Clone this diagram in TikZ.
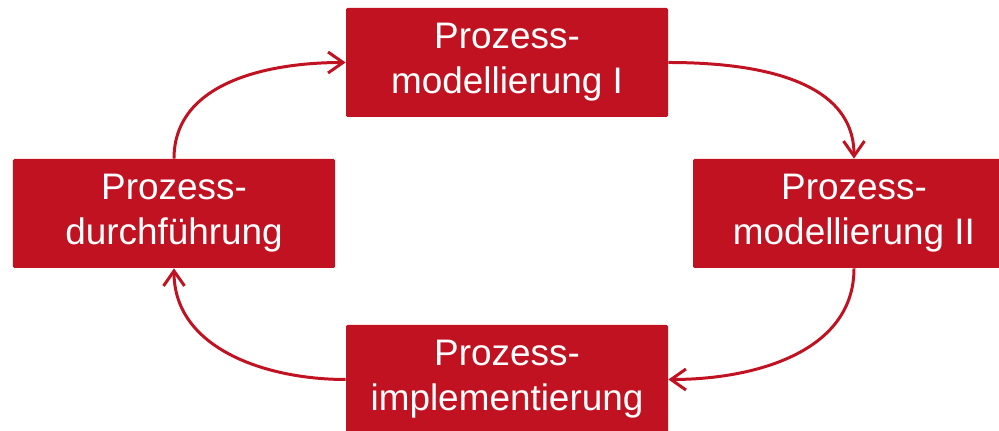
\documentclass[tikz,border=0pt]{standalone}
\usepackage{fontspec}
\setmainfont{Liberation Sans}
\usetikzlibrary{arrows.meta}

\definecolor{kitred}{RGB}{193,18,34}

\begin{document}
\begin{tikzpicture}[x=0.2mm,y=0.2mm,
    phase/.style={fill=kitred, text=white, rounded corners=0.8pt, align=center,
        minimum width=64.4mm, minimum height=21.8mm, inner sep=0pt,
        font=\fontsize{21}{25.6}\selectfont},
    cycle/.style={draw=kitred, line width=1.7pt,
        -{Straight Barb[length=3mm, width=4.2mm, line width=1.7pt]}}]

    \useasboundingbox (0, 0) rectangle (999, 431);

    % Phases
    \node[phase] (model1) at (507, 368.5) {Prozess-\\modellierung I};
    \node[phase] (model2) at (854, 217.5) {Prozess-\\modellierung II};
    \node[phase] (impl)   at (507, 51.5)  {Prozess-\\implementierung};
    \node[phase] (durch)  at (174, 217.5) {Prozess-\\durchführung};

    % Cycle
    \draw[cycle] (model1.east) to[out=0, in=90] (model2.north);
    \draw[cycle] (model2.south) to[out=-90, in=0] (impl.east);
    \draw[cycle] (impl.west) to[out=180, in=-90] (durch.south);
    \draw[cycle] (durch.north) to[out=90, in=180] (model1.west);
\end{tikzpicture}
\end{document}
